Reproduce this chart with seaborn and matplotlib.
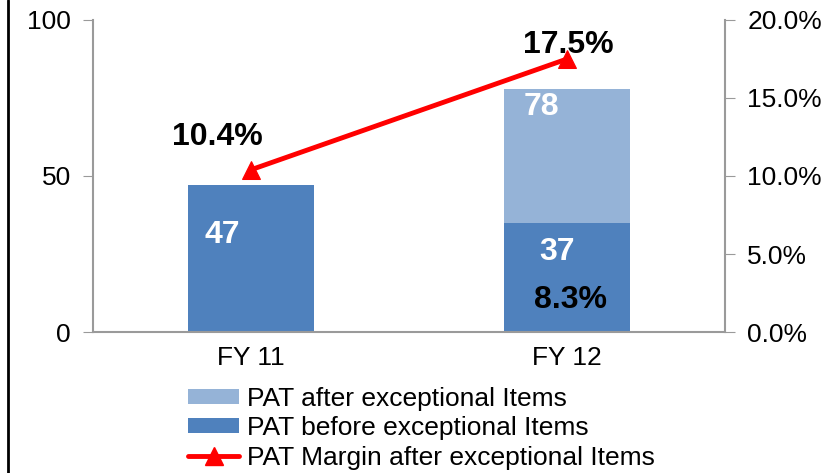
import numpy as np
import pandas as pd
import matplotlib
matplotlib.use("Agg")
import matplotlib.pyplot as plt
import seaborn as sns
from matplotlib.patches import Patch
from matplotlib.lines import Line2D
from matplotlib.ticker import FuncFormatter

categories = ["FY 11", "FY 12"]
pat_after = [47, 78]
pat_before = [47, 35]
margin_after = [10.4, 17.5]
bar_labels_before = ["47", "37"]
bar_labels_after = [None, "78"]
margin_before_label = [None, "8.3%"]
left_ticks = [0, 50, 100]
right_ticks = [0, 5, 10, 15, 20]

sns.set_style("white")
plt.rcParams["font.family"] = ["Liberation Sans", "DejaVu Sans"]
plt.rcParams["text.color"] = "black"

c_dark = "#4F81BD"
c_light = "#95B3D7"
c_red = "#FF0000"
c_axis = "#9A9A9A"
FS = 19
BFS = 23

fig = plt.figure(figsize=(8.36, 4.73), dpi=100)
ax = fig.add_axes([93/836, 1-332/473, (725-93)/836, (332-20)/473])

df = pd.DataFrame({"cat": categories, "after": pat_after, "before": pat_before})
sns.barplot(data=df, x="cat", y="after", color=c_light, width=0.4, ax=ax,
            saturation=1, edgecolor="none")
sns.barplot(data=df, x="cat", y="before", color=c_dark, width=0.4, ax=ax,
            saturation=1, edgecolor="none")
ax.set_xlim(-0.5, 1.5)
ax.set_ylim(0, 100)
ax.set_yticks(left_ticks)
ax.set_xlabel("")
ax.set_ylabel("")
ax.tick_params(axis="y", labelsize=FS, length=7, color=c_axis, direction="out", pad=9,
               labelcolor="black")
ax.tick_params(axis="x", labelsize=FS, length=0, pad=10, labelcolor="black")
ax.set_xticks([0, 1])
ax.set_xticklabels(categories)
ax.set_xticks([-0.5, 0.5, 1.5], minor=True)
ax.tick_params(axis="x", which="minor", length=7, color=c_axis, width=1.2)
for s in ["top", "right"]:
    ax.spines[s].set_visible(False)
for s in ["left", "bottom"]:
    ax.spines[s].set_color(c_axis)
    ax.spines[s].set_linewidth(1.5)

ax2 = ax.twinx()
sns.lineplot(x=np.arange(len(categories)), y=margin_after, ax=ax2, color=c_red,
             linewidth=3.5, marker="^", markersize=13, markeredgecolor=c_red)
ax2.set_ylim(0, 20)
ax2.set_yticks(right_ticks)
ax2.yaxis.set_major_formatter(FuncFormatter(lambda v, p: f"{v:.1f}%"))
ax2.tick_params(axis="y", labelsize=FS, length=7, color=c_axis, direction="out", pad=9,
                labelcolor="black")
ax2.set_ylabel("")
for s in ["top", "left", "bottom"]:
    ax2.spines[s].set_visible(False)
ax2.spines["right"].set_color(c_axis)
ax2.spines["right"].set_linewidth(1.5)

# value labels
for i, t in enumerate(bar_labels_before):
    off = -0.09 if i == 0 else -0.03
    yv = 31 if i == 0 else 25.5
    ax.text(i + off, yv, t, color="white", fontsize=BFS, fontweight="bold",
            ha="center", va="center")
for i, t in enumerate(bar_labels_after):
    if t:
        ax.text(i - 0.08, 72, t, color="white", fontsize=BFS, fontweight="bold",
                ha="center", va="center")
for i, t in enumerate(margin_before_label):
    if t:
        ax.text(i + 0.01, 10.3, t, color="black", fontsize=BFS, fontweight="bold",
                ha="center", va="center")
ax.text(0 - 0.105, 62.5, f"{margin_after[0]}%", color="black", fontsize=BFS,
        fontweight="bold", ha="center", va="center")
ax.text(1 + 0.003, 92, f"{margin_after[1]}%", color="black", fontsize=BFS,
        fontweight="bold", ha="center", va="center")

handles = [Patch(facecolor=c_light, edgecolor="none"),
           Patch(facecolor=c_dark, edgecolor="none"),
           Line2D([], [], color=c_red, linewidth=3.5, marker="^", markersize=13)]
labels = ["PAT after exceptional Items", "PAT before exceptional Items",
          "PAT Margin after exceptional Items"]
fig.legend(handles, labels, loc="upper left", bbox_to_anchor=(188/836, 1-387/473),
           frameon=False, fontsize=FS, handlelength=1.95, handletextpad=0.3,
           labelspacing=0.2, borderpad=0, borderaxespad=0, handleheight=0.5,
           labelcolor="black")

fig.add_artist(Line2D([8/836, 8/836], [0, 1], color="black", linewidth=2,
                      transform=fig.transFigure))

fig.savefig("out.png", dpi=100)
